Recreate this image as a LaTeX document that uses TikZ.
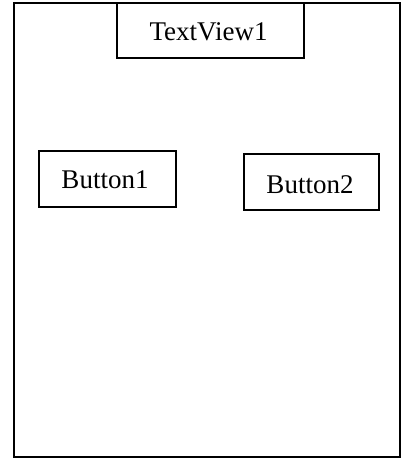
\documentclass[tikz,border=0pt]{standalone}
\usepackage{fontspec}
\setmainfont{Liberation Serif}
\begin{document}
\begin{tikzpicture}[x=1pt,y=-1pt,
  widget/.style={draw=black,line width=2.3pt,rectangle,inner sep=0pt},
  lbl/.style={inner sep=0pt,font=\fontsize{27}{30}\selectfont}]
\useasboundingbox (0,0) rectangle (401,459);
\draw[line width=2.3pt] (14,3) rectangle (400,457);
\node[widget,minimum width=187pt,minimum height=55pt] (tv) at (210.5,30.5) {};
\node[lbl] (tvt) at (208.5,31.5) {TextView1};
\node[widget,minimum width=137pt,minimum height=56pt] (b1) at (107.5,179) {};
\node[lbl] (b1t) at (105,180) {Button1};
\node[widget,minimum width=135pt,minimum height=56pt] (b2) at (311.5,182) {};
\node[lbl] (b2t) at (310,185) {Button2};
\end{tikzpicture}
\end{document}
